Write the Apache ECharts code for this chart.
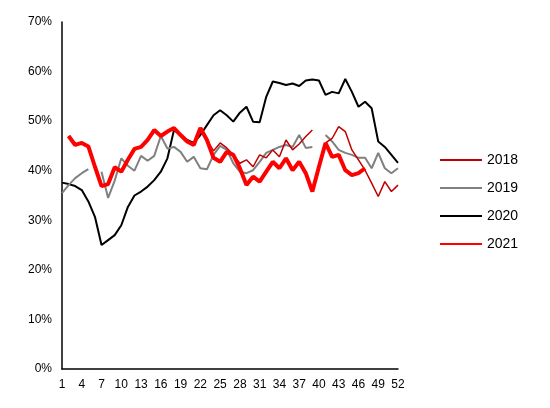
<!DOCTYPE html>
<html>
<head>
<meta charset="utf-8">
<script src="https://cdn.jsdelivr.net/npm/echarts@6/dist/echarts.min.js"></script>
<style>
  html, body { margin: 0; padding: 0; background: #fff; }
  #chart { width: 550px; height: 408px; }
</style>
</head>
<body>
<div id="chart"></div>
<script>
const weeks = Array.from({ length: 52 }, (_, i) => String(i + 1));

const s2018 = [null, 47.0, 45.2, 45.6, 44.9, 40.8, 36.9, 37.3, 40.7, 39.8, 42.2, 44.4, 44.8, 46.2, 48.2, 47.0,
  47.9, 48.6, 47.2, 45.9, 45.2, 48.6, 46.2, 44.0, 45.6, 44.6, 43.2, 41.5, 42.2, 40.8, 43.2, 42.6,
  44.2, 42.8, 46.2, 44.2, 45.4, 46.9, 48.2, null, 45.6, 46.5, 48.9, 47.9, 44.2, 42.2, 40.1, 37.5,
  34.8, 37.8, 35.8, 37.1];
const s2019 = [35.5, 37.1, 38.5, 39.5, 40.3, null, 39.8, 34.5, 38.0, 42.5, 41.0, 40.0, 43.0, 42.0, 43.0, 47.0,
  44.5, 44.8, 43.8, 41.8, 42.8, 40.5, 40.3, 43.2, 45.0, 44.2, 41.5, 39.8, 39.5, 40.1, 41.8, 43.6,
  44.2, 44.8, 45.2, 44.8, 47.2, 44.6, 44.8, null, 47.2, 45.9, 44.2, 43.6, 43.2, 42.6, 42.6, 40.5,
  43.6, 40.5, 39.5, 40.5];
const s2020 = [37.6, 37.3, 36.9, 36.1, 33.8, 30.7, 25.0, 26.0, 27.0, 29.0, 32.7, 35.0, 35.8, 36.8, 38.1, 39.8,
  42.5, 48.2, 47.2, 46.2, 45.6, 47.2, 49.2, 51.2, 52.2, 51.2, 49.9, 51.7, 52.9, 49.9, 49.8, 54.9,
  58.0, 57.7, 57.3, 57.6, 57.1, 58.2, 58.4, 58.2, 55.3, 55.9, 55.6, 58.5, 55.9, 52.9, 53.9, 52.6,
  45.9, 44.8, 43.2, 41.6];
const s2021 = [null, 47.0, 45.2, 45.6, 44.9, 40.8, 36.9, 37.3, 40.7, 39.8, 42.2, 44.4, 44.8, 46.2, 48.2, 47.0,
  47.9, 48.6, 47.2, 45.9, 45.2, 48.6, 46.2, 42.6, 41.8, 43.8, 43.2, 40.5, 37.1, 38.8, 37.8, 39.8,
  41.8, 40.5, 42.5, 40.1, 41.8, 39.5, 35.8, 40.8, 45.6, 42.8, 43.2, 40.1, 39.1, 39.5, 40.5];

const yTicks = [0, 10, 20, 30, 40, 50, 60, 70];

const chart = echarts.init(document.getElementById('chart'));

function line(name, data, color, width, z) {
  return {
    name, type: 'line', data, symbol: 'none', z,
    lineStyle: { color, width }, itemStyle: { color },
    connectNulls: false, animation: false
  };
}

chart.setOption({
  animation: false,
  grid: { left: 62, right: 152, top: 22, bottom: 39 },
  legend: {
    orient: 'vertical', left: 434, top: 148, itemGap: 14,
    itemWidth: 42, itemHeight: 14,
    itemStyle: { opacity: 0 },
    textStyle: { fontSize: 14, color: '#000', fontFamily: 'Liberation Sans' },
    data: ['2018', '2019', '2020', '2021']
  },
  xAxis: {
    type: 'category', data: weeks, boundaryGap: false,
    axisLine: { lineStyle: { color: '#000', width: 1.5 } },
    axisTick: { show: false },
    axisLabel: {
      interval: 2, color: '#000', fontSize: 12, margin: 10,
      fontFamily: 'Liberation Sans'
    }
  },
  yAxis: {
    type: 'value', min: yTicks[0], max: yTicks[yTicks.length - 1], interval: 10,
    axisLine: { show: true, lineStyle: { color: '#000', width: 1.5 } },
    axisTick: { show: false },
    splitLine: { show: false },
    axisLabel: {
      formatter: '{value}%', color: '#000', fontSize: 12, margin: 10,
      fontFamily: 'Liberation Sans'
    }
  },
  series: [
    line('2018', s2018, '#c00000', 1.5, 3),
    line('2019', s2019, '#808080', 2, 2),
    line('2020', s2020, '#000000', 2, 1),
    line('2021', s2021, '#ff0000', 4, 4)
  ]
});
</script>
</body>
</html>
